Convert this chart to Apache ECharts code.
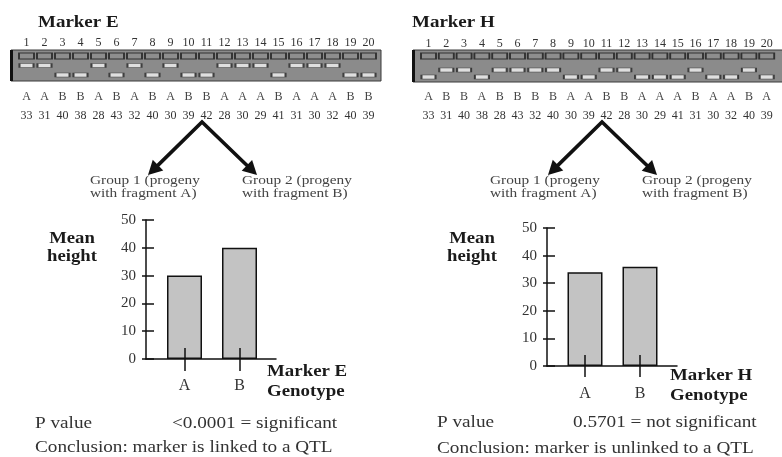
<!DOCTYPE html>
<html><head><meta charset="utf-8">
<script src="https://cdn.jsdelivr.net/npm/echarts@6/dist/echarts.min.js"></script>
<style>html,body{margin:0;padding:0;background:#fff}#main{width:782px;height:457px}</style>
</head><body><div id="main"></div>
<script>
// ---- data ----
const lanes = ['1','2','3','4','5','6','7','8','9','10','11','12','13','14','15','16','17','18','19','20'];
const genotypeE = ['A','A','B','B','A','B','A','B','A','B','B','A','A','A','B','A','A','A','B','B'];
const genotypeH = ['A','B','B','A','B','B','B','B','A','A','B','B','A','A','A','B','A','A','B','A'];
const heights = [33,31,40,38,28,43,32,40,30,39,42,28,30,29,41,31,30,32,40,39];
const rowsE = ['well','A','B'];
const rowsH = ['well','gap','B','A'];
const genotypes = ['A','B'];
const meanHeightE = [30,40];
const meanHeightH = [34,36];
const yMin = 0, yMax = 50, yStep = 10;

const SERIF = '"Liberation Serif", "DejaVu Serif", serif';
const INK = '#111';
const chart = echarts.init(document.getElementById('main'), null, {renderer:'canvas'});

function gelTop(gridIndex, margin){
  return {type:'category', gridIndex, data:lanes, position:'top', boundaryGap:true,
    axisLine:{show:false}, axisTick:{show:false}, splitLine:{show:false},
    axisLabel:{interval:0, margin, fontFamily:SERIF, fontSize:12, color:'#333'}};
}
function gelBottom(gridIndex, geno, margin){
  return {type:'category', gridIndex, data:lanes, position:'bottom', boundaryGap:true,
    axisLine:{show:false}, axisTick:{show:false}, splitLine:{show:false},
    axisLabel:{interval:0, margin,
      formatter:(v,i)=>'{g|'+geno[i]+'}\n{h|'+heights[i]+'}',
      rich:{g:{fontFamily:SERIF,fontSize:12,lineHeight:19,color:'#444'},
            h:{fontFamily:SERIF,fontSize:12,lineHeight:19,color:'#333'}}}};
}
function gelY(gridIndex, rows){
  return {type:'category', gridIndex, data:rows, inverse:true, show:false};
}
function frameX(gridIndex){
  return {type:'value', gridIndex, min:0, max:1, position:'bottom',
    axisLine:{show:true, lineStyle:{color:INK, width:1.5}}, axisTick:{show:false},
    axisLabel:{show:false}, splitLine:{show:false}};
}
function barXInner(gridIndex){
  return {type:'category', gridIndex, data:genotypes, position:'bottom', z:5,
    axisLine:{show:false}, axisTick:{show:true, inside:true, length:11, alignWithLabel:true, lineStyle:{color:INK,width:1.5}},
    axisLabel:{show:false}, splitLine:{show:false}};
}
function barXOuter(gridIndex, margin, len){
  return {type:'category', gridIndex, data:genotypes, position:'bottom', z:5,
    axisLine:{show:false}, axisTick:{show:true, inside:false, length:len, alignWithLabel:true, lineStyle:{color:INK,width:1.5}},
    axisLabel:{margin, fontFamily:SERIF, fontSize:16, color:'#333'}, splitLine:{show:false}};
}
function frameY(gridIndex){
  return {type:'value', gridIndex, min:yMin, max:yMax, interval:yStep, position:'left',
    axisLine:{show:true, lineStyle:{color:INK, width:1.5}},
    axisTick:{show:true, inside:true, length:8, lineStyle:{color:INK, width:1.5}},
    axisLabel:{margin:10, fontFamily:SERIF, fontSize:15, color:'#333'}, splitLine:{show:false}};
}
function frameYOuter(gridIndex){
  return {type:'value', gridIndex, min:yMin, max:yMax, interval:yStep, position:'left',
    axisLine:{show:false},
    axisTick:{show:true, inside:false, length:4, lineStyle:{color:INK, width:1.5}},
    axisLabel:{show:false}, splitLine:{show:false}};
}
function hiddenY(gridIndex){
  return {type:'value', gridIndex, min:yMin, max:yMax, show:false};
}

function txt(text, x, y, font, o){
  o = o || {};
  return {type:'text', x, y, scaleX:o.sx||1.2, z:10,
    style:{text, font, fill:o.fill||'#333', textAlign:o.align||'left', align:o.align||'left',
      textVerticalAlign:'middle', verticalAlign:'middle'}};
}
function arrows(ax, ay, lx, ly, rx, ry){
  const hl = 14, hw = 7.5, out = [];
  const heads = [[lx,ly],[rx,ry]].map(([tx,ty])=>{
    const dx=tx-ax, dy=ty-ay, L=Math.hypot(dx,dy), ux=dx/L, uy=dy/L;
    const bx=tx-ux*hl, by=ty-uy*hl;
    out.push({type:'polygon', z:10, shape:{points:[[tx,ty],[bx-uy*hw,by+ux*hw],[bx+uy*hw,by-ux*hw]]}, style:{fill:INK}});
    return [bx+ux*2, by+uy*2];
  });
  out.push({type:'polyline', z:10, shape:{points:[heads[0],[ax,ay],heads[1]]},
    style:{stroke:INK, lineWidth:3.6, lineJoin:'miter', fill:null}});
  return out;
}

const bodyFont = '16px ' + SERIF;
const groupFont = '13px ' + SERIF;
const boldTitle = 'bold 16.5px ' + SERIF;
const boldLbl = 'bold 16px ' + SERIF;

const graphics = [
  {type:'rect', z:0, shape:{x:11,y:50,width:370,height:31}, style:{fill:'#8b8b8b', stroke:'#3a3a3a', lineWidth:1}},
  {type:'rect', z:1, shape:{x:10,y:50,width:3,height:31}, style:{fill:'#111'}},
  {type:'rect', z:0, shape:{x:413,y:50,width:372,height:32}, style:{fill:'#8b8b8b', stroke:'#3a3a3a', lineWidth:1}},
  {type:'rect', z:1, shape:{x:412,y:50,width:3,height:32}, style:{fill:'#111'}},
  ...arrows(202,122,148,175,257,175),
  ...arrows(602,122,548,175,657,175),
  txt('Marker E', 38, 22.5, boldTitle, {sx:1.15, fill:'#1a1a1a'}),
  txt('Marker H', 412, 22.5, boldTitle, {sx:1.15, fill:'#1a1a1a'}),
  txt('Group 1 (progeny', 90, 181, groupFont, {sx:1.18, fill:'#444'}),
  txt('with fragment A)', 90, 194, groupFont, {sx:1.18, fill:'#444'}),
  txt('Group 2 (progeny', 242, 181, groupFont, {sx:1.18, fill:'#444'}),
  txt('with fragment B)', 242, 194, groupFont, {sx:1.18, fill:'#444'}),
  txt('Group 1 (progeny', 490, 181, groupFont, {sx:1.18, fill:'#444'}),
  txt('with fragment A)', 490, 194, groupFont, {sx:1.18, fill:'#444'}),
  txt('Group 2 (progeny', 642, 181, groupFont, {sx:1.18, fill:'#444'}),
  txt('with fragment B)', 642, 194, groupFont, {sx:1.18, fill:'#444'}),
  txt('Mean', 72, 239, 'bold 17px '+SERIF, {sx:1.1, align:'center', fill:'#1a1a1a'}),
  txt('height', 72, 257, 'bold 17px '+SERIF, {sx:1.1, align:'center', fill:'#1a1a1a'}),
  txt('Mean', 472, 239, 'bold 17px '+SERIF, {sx:1.1, align:'center', fill:'#1a1a1a'}),
  txt('height', 472, 257, 'bold 17px '+SERIF, {sx:1.1, align:'center', fill:'#1a1a1a'}),
  txt('Marker E', 267, 372, boldLbl, {sx:1.18, fill:'#1a1a1a'}),
  txt('Genotype', 267, 392, boldLbl, {sx:1.18, fill:'#1a1a1a'}),
  txt('Marker H', 670, 376, boldLbl, {sx:1.18, fill:'#1a1a1a'}),
  txt('Genotype', 670, 396, boldLbl, {sx:1.18, fill:'#1a1a1a'}),
  txt('P value', 35, 424, bodyFont),
  txt('<0.0001 = significant', 172, 424, bodyFont),
  txt('Conclusion: marker is linked to a QTL', 35, 448, bodyFont),
  txt('P value', 437, 423, bodyFont),
  txt('0.5701 = not significant', 573, 423, bodyFont),
  txt('Conclusion: marker is unlinked to a QTL', 437, 449, bodyFont)
];

const wellStyle = {color:'#8f8f8f', borderColor:'#1a1a1a', borderWidth:1.2};
const bandStyle = {color:'#f4f4f4', borderColor:'#222', borderWidth:1.1};
const barStyle = {color:'#c3c3c3', borderColor:INK, borderWidth:1.5};

chart.setOption({
  animation:false,
  backgroundColor:'#fff',
  textStyle:{fontFamily:SERIF},
  grid:[
    {left:17.5, top:51.25, width:360, height:28.5, outerBoundsMode:'none'},
    {left:419.6, top:52.5, width:356, height:28, outerBoundsMode:'none'},
    {left:146, top:220, width:130, height:139, outerBoundsMode:'none'},
    {left:157, top:220, width:110, height:139, outerBoundsMode:'none'},
    {left:547, top:228, width:130, height:138, outerBoundsMode:'none'},
    {left:557.5, top:228, width:110, height:138, outerBoundsMode:'none'}
  ],
  xAxis:[
    gelTop(0, 2), gelBottom(0, genotypeE, 8),
    gelTop(1, 3), gelBottom(1, genotypeH, 7),
    frameX(2), barXInner(3), barXOuter(3, 18.5, 12),
    frameX(4), barXInner(5), barXOuter(5, 19.5, 11)
  ],
  yAxis:[
    gelY(0, rowsE), gelY(1, rowsH),
    frameY(2), frameYOuter(2), hiddenY(3),
    frameY(4), frameYOuter(4), hiddenY(5)
  ],
  series:[
    {type:'scatter', xAxisIndex:0, yAxisIndex:0, symbol:'rect', symbolSize:[15,6], itemStyle:wellStyle, silent:true,
      data:lanes.map(l=>[l,'well'])},
    {type:'scatter', xAxisIndex:0, yAxisIndex:0, symbol:'rect', symbolSize:[14,4], itemStyle:bandStyle, silent:true,
      data:genotypeE.map((g,i)=>[lanes[i], g])},
    {type:'scatter', xAxisIndex:2, yAxisIndex:1, symbol:'rect', symbolSize:[15,6], itemStyle:wellStyle, silent:true,
      data:lanes.map(l=>[l,'well'])},
    {type:'scatter', xAxisIndex:2, yAxisIndex:1, symbol:'rect', symbolSize:[14,4], itemStyle:bandStyle, silent:true,
      data:genotypeH.map((g,i)=>[lanes[i], g])},
    {type:'bar', xAxisIndex:5, yAxisIndex:4, barWidth:35, itemStyle:barStyle, silent:true, data:meanHeightE},
    {type:'bar', xAxisIndex:8, yAxisIndex:7, barWidth:35, itemStyle:barStyle, silent:true, data:meanHeightH}
  ],
  graphic:{elements:graphics}
});
</script></body></html>
